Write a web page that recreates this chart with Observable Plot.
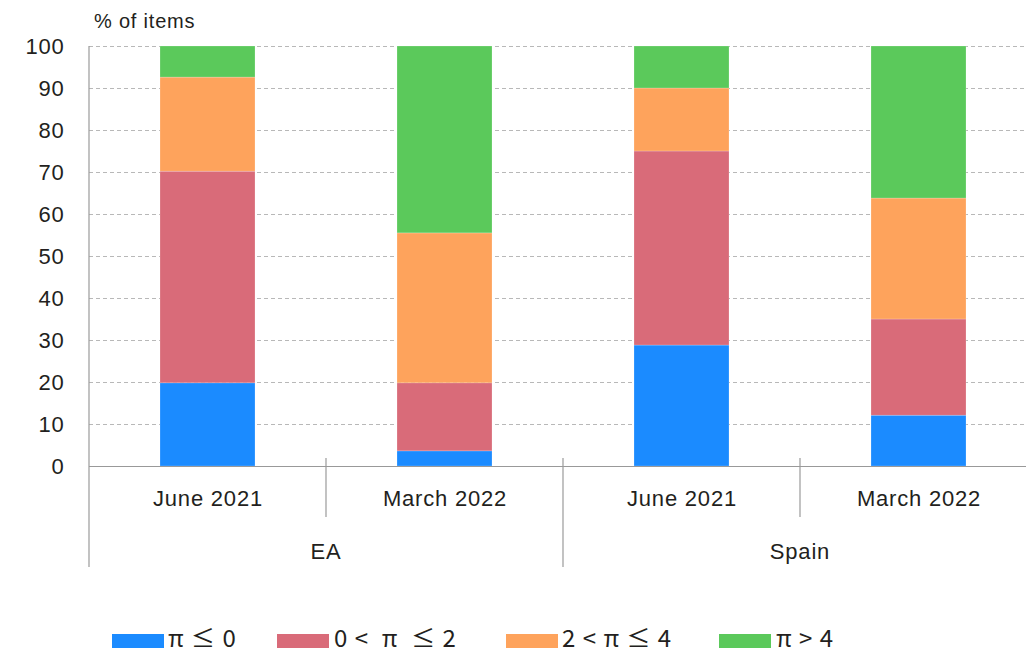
<!DOCTYPE html>
<html>
<head>
<meta charset="utf-8">
<script src="https://cdn.jsdelivr.net/npm/d3@7"></script>
<script src="https://cdn.jsdelivr.net/npm/@observablehq/plot@0.6"></script>
<style>
  html, body { margin: 0; padding: 0; background: #fff; }
  #wrap { position: relative; width: 1026px; height: 653px; overflow: hidden; font-family: "Liberation Sans", Arial, sans-serif; color: #231f20; }
  #legend { position: absolute; left: 0; top: 624px; width: 1026px; height: 29px; }
  .sw { position: absolute; top: 10px; width: 52px; height: 14px; }
  .lt { position: absolute; top: -3px; font-family: "Noto Sans CJK JP", "Noto Sans", sans-serif; font-size: 24px; line-height: 32px; color: #231f20; letter-spacing: 1px; white-space: pre; }
</style>
</head>
<body>
<div id="wrap"><div id="chart"></div><div id="legend"></div></div>
<script>
const groups = ["EA", "EA", "Spain", "Spain"];
const periods = ["June 2021", "March 2022", "June 2021", "March 2022"];
const series = ["π ≤ 0", "0 <  π  ≤ 2", "2 < π ≤ 4", "π > 4"];
const colors = ["#1b8bff", "#d96b79", "#fea35c", "#5bc95b"];
const blue   = [19.8, 3.6, 28.8, 12.1];
const red    = [50.4, 16.2, 46.2, 22.9];
const orange = [22.4, 35.7, 15.0, 28.8];
const green  = [7.4, 44.5, 10.0, 36.2];
const yTicks = [0, 10, 20, 30, 40, 50, 60, 70, 80, 90, 100];

const keys = groups.map((g, i) => g + "|" + periods[i]);
const values = [blue, red, orange, green];
const data = [];
series.forEach((s, si) => keys.forEach((k, i) => data.push({key: k, series: s, value: values[si][i]})));

const W = 1026, H = 624;
const plot = Plot.plot({
  width: W, height: H,
  marginTop: 46, marginBottom: 158, marginLeft: 89, marginRight: 0,
  style: {fontFamily: "Liberation Sans, Arial, sans-serif", fontSize: "22px", color: "#231f20", background: "#fff", letterSpacing: "0.8px"},
  x: {domain: keys, range: [89, 1037], paddingInner: 0.6, paddingOuter: 0.3, label: null},
  y: {domain: [0, 100], label: null},
  color: {domain: series, range: colors},
  marks: [
    Plot.gridY(yTicks, {stroke: "#b8b8b8", strokeOpacity: 1, strokeDasharray: "4,3"}),
    Plot.barY(data, {x: "key", y: "value", fill: "series", stroke: "#ffffff", strokeOpacity: 0.35, strokeWidth: 0.6}),
    Plot.ruleY([0], {stroke: "#999", strokeWidth: 1.2}),
    Plot.axisY(yTicks, {tickSize: 0, tickPadding: 25, fontSize: 22, label: null}),
    Plot.axisX({tickSize: 0, tickPadding: 24, fontSize: 22, label: null, tickFormat: d => d.split("|")[1]})
  ]
});
document.getElementById("chart").appendChild(plot);

const svg = d3.select(plot);
const sx = plot.scale("x");
const sy = plot.scale("y");
const bw = sx.bandwidth, step = sx.step;
const xPos = k => sx.apply(k);
const y0 = sy.apply(0), y100 = sy.apply(100);
const left = 89;
const g = svg.append("g").attr("stroke", "#9a9a9a").attr("stroke-width", 1.2);
// left axis line
g.append("line").attr("x1", left).attr("x2", left).attr("y1", y100).attr("y2", y0 + 101);
// separators between categories
for (let i = 0; i < keys.length - 1; i++) {
  const xb = xPos(keys[i]) + bw + (step - bw) / 2;
  const major = groups[i] !== groups[i + 1];
  g.append("line").attr("x1", xb).attr("x2", xb).attr("y1", y0 - 8).attr("y2", major ? y0 + 101 : y0 + 51);
}
// group labels
const uniq = Array.from(new Set(groups));
uniq.forEach(gr => {
  const ks = keys.filter((k, i) => groups[i] === gr);
  const cx = d3.mean(ks, k => xPos(k) + bw / 2);
  svg.append("text").attr("x", cx).attr("y", y0 + 93).attr("text-anchor", "middle")
    .attr("font-size", 22).attr("fill", "#231f20").text(gr);
});
// y unit label
svg.append("text").attr("x", 94).attr("y", 28).attr("text-anchor", "start")
  .attr("font-size", 20).attr("fill", "#231f20").text("% of items");

// legend
const lg = document.getElementById("legend");
const swX = [112, 277, 506, 719];
const txX = [168, 334, 562, 776];
series.forEach((s, i) => {
  const sw = document.createElement("div");
  sw.className = "sw"; sw.style.left = swX[i] + "px"; sw.style.background = colors[i];
  lg.appendChild(sw);
  const t = document.createElement("div");
  t.className = "lt"; t.style.left = txX[i] + "px"; t.textContent = s;
  lg.appendChild(t);
});
</script>
</body>
</html>
